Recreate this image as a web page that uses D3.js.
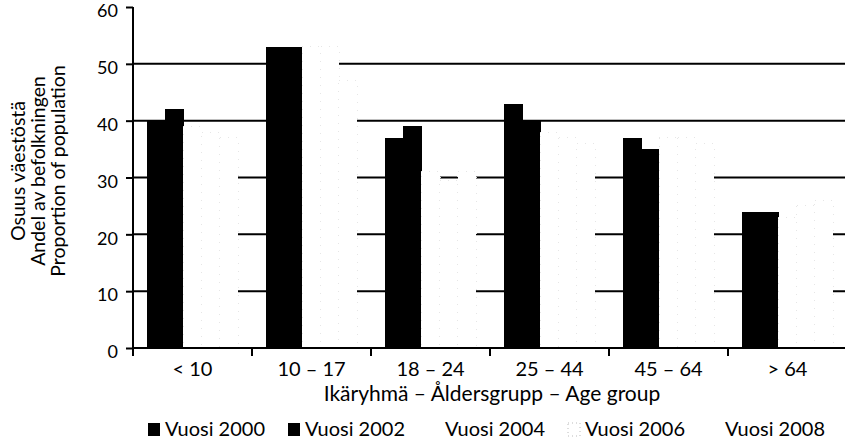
<!DOCTYPE html>
<html>
<head>
<meta charset="utf-8">
<script src="https://cdn.jsdelivr.net/npm/d3@7"></script>
<style>
  body { margin: 0; background: #fff; }
  svg { display: block; font-family: Lato, "Open Sans", sans-serif; }
</style>
</head>
<body>
<svg id="chart"></svg>
<script>
// age groups and yearly shares (%)
const categories = ['< 10', '10 – 17', '18 – 24', '25 – 44', '45 – 64', '> 64'];
const years = ['Vuosi 2000', 'Vuosi 2002', 'Vuosi 2004', 'Vuosi 2006', 'Vuosi 2008'];
const v2000 = [40, 53, 37, 43, 37, 24];
const v2002 = [42, 53, 39, 40, 35, 24];
const v2004 = [39, 53, 31, 38, 37, 23];
const v2006 = [38, 53, 29.5, 37, 37, 25];
const v2008 = [37, 47, 31, 36, 36, 26];
const yTicks = [0, 10, 20, 30, 40, 50, 60];
const gridTicks = [10, 20, 30, 40, 50];

const series = [v2000, v2002, v2004, v2006, v2008];
const fills = ['#000', '#000', '#fff', '#fff', '#fff'];

const width = 845, height = 442;
const m_left = 133, m_right = 847, m_top = 7, m_bottom = 348;

const svg = d3.select('#chart')
  .attr('width', width)
  .attr('height', height);

const x = d3.scaleBand()
  .domain(categories)
  .range([m_left, m_right])
  .padding(0);

const xs = d3.scaleBand()
  .domain(years)
  .range([0, x.bandwidth()])
  .paddingInner(0)
  .paddingOuter(0.8);

const y = d3.scaleLinear()
  .domain([0, 60])
  .range([m_bottom, m_top]);

// grid lines behind bars
svg.append('g')
  .selectAll('line')
  .data(gridTicks)
  .join('line')
  .attr('x1', m_left)
  .attr('x2', width)
  .attr('y1', d => y(d))
  .attr('y2', d => y(d))
  .attr('stroke', '#000')
  .attr('stroke-width', 2);

// bars (the light years are almost white in the scan)
const rows = categories.map((c, i) => ({cat: c, vals: series.map((s, j) => ({year: years[j], v: s[i], fill: fills[j]}))}));

const groups = svg.append('g')
  .selectAll('g')
  .data(rows)
  .join('g')
  .attr('transform', d => 'translate(' + x(d.cat) + ',0)');

groups.selectAll('rect')
  .data(d => d.vals)
  .join('rect')
  .attr('x', d => xs(d.year))
  .attr('y', d => y(d.v))
  .attr('width', xs.bandwidth() + 0.5)
  .attr('height', d => y(0) - y(d.v))
  .attr('fill', d => d.fill)
  .attr('shape-rendering', 'crispEdges')
  .attr('stroke', d => d.fill === '#fff' ? '#e6e6e6' : 'none')
  .attr('stroke-width', 1)
  .attr('stroke-dasharray', d => d.fill === '#fff' ? '1,7' : null);

// y axis
const yAxis = svg.append('g')
  .attr('transform', 'translate(' + m_left + ',0)')
  .call(d3.axisLeft(y).tickValues(yTicks).tickSize(7).tickSizeOuter(0).tickPadding(8));
yAxis.select('.domain').attr('stroke-width', 2).attr('d', 'M0,' + m_top + 'V' + (m_bottom + 8));
yAxis.selectAll('.tick line').attr('stroke-width', 2);
yAxis.selectAll('.tick text')
  .attr('y', 4)
  .attr('font-family', 'Lato, sans-serif')
  .attr('font-size', 18)
  .attr('fill', '#000');

// x axis
const xAxis = svg.append('g')
  .attr('transform', 'translate(0,' + m_bottom + ')')
  .call(d3.axisBottom(x).tickSize(0).tickSizeOuter(0).tickPadding(14));
xAxis.select('.domain').attr('stroke-width', 2).attr('d', 'M' + m_left + ',0H' + width);
xAxis.selectAll('.tick text')
  .attr('font-family', 'Lato, sans-serif')
  .attr('font-size', 20)
  .attr('fill', '#000');

// tick marks at the category boundaries
svg.append('g')
  .selectAll('line')
  .data(categories)
  .join('line')
  .attr('x1', d => x(d))
  .attr('x2', d => x(d))
  .attr('y1', m_bottom)
  .attr('y2', m_bottom + 8)
  .attr('stroke', '#000')
  .attr('stroke-width', 2);

// axis titles
svg.append('text')
  .attr('x', 492)
  .attr('y', 401)
  .attr('text-anchor', 'middle')
  .attr('font-size', 21)
  .text('Ikäryhmä – Åldersgrupp – Age group');

const yTitle = ['Osuus väestöstä', 'Andel av befolkningen', 'Proportion of population'];
svg.append('g')
  .attr('transform', 'translate(25,171) rotate(-90)')
  .selectAll('text')
  .data(yTitle)
  .join('text')
  .attr('x', 0)
  .attr('y', (d, i) => i * 20)
  .attr('text-anchor', 'middle')
  .attr('font-size', 19.5)
  .text(d => d);

// legend
const legend = svg.append('g')
  .selectAll('g')
  .data(years)
  .join('g')
  .attr('transform', (d, i) => 'translate(' + (148 + i * 140) + ',423)');

legend.append('rect')
  .attr('width', 12)
  .attr('height', 13)
  .attr('fill', (d, i) => fills[i])
  .attr('stroke', (d, i) => i === 3 ? '#bbb' : 'none')
  .attr('stroke-dasharray', '1,3');

legend.append('text')
  .attr('x', 17)
  .attr('y', 13)
  .attr('font-size', 20)
  .text(d => d);
</script>
</body>
</html>
